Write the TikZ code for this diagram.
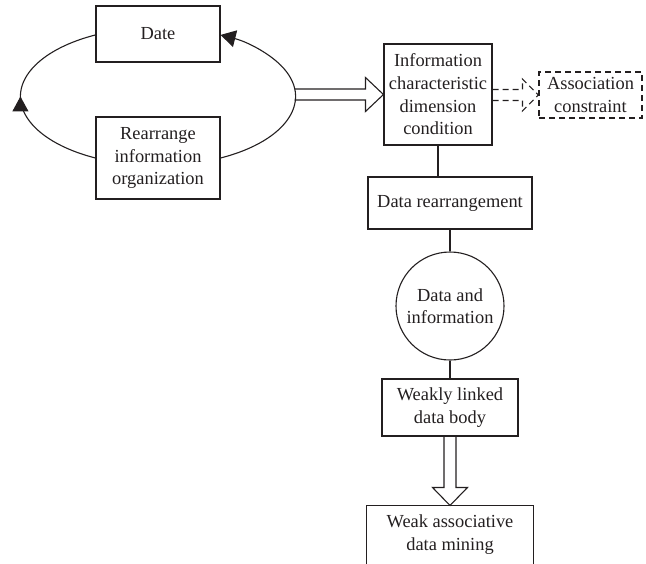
\documentclass[tikz,border=0pt]{standalone}
\usepackage{fontspec}
\setmainfont{Liberation Serif}
\usetikzlibrary{arrows.meta,calc,decorations.markings}
\definecolor{ink}{HTML}{231F20}
\begin{document}
\begin{tikzpicture}[x=0.5pt,y=-0.5pt,
  line width=0.55pt, draw=ink, text=ink,
  every node/.style={font=\fontsize{9.2pt}{11.3pt}\selectfont, align=center, inner sep=0pt},
  box/.style={draw=ink, rectangle},
  dashbox/.style={draw=ink, rectangle, dash pattern=on 3pt off 2pt},
  hollow/.style={draw=ink, line join=miter},
  hollowdash/.style={draw=ink, line join=miter, dash pattern=on 3pt off 2pt},
  tip/.style={-{Triangle[length=7.5pt,width=8.5pt]}},
  midtip/.style={postaction={decorate}, decoration={markings,
     mark=at position 0.5 with {\arrow{Triangle[length=7.5pt,width=8pt]}}}}
]
\useasboundingbox (0,0) rectangle (646,563);

% boxes of the feedback loop
\node[box, minimum width=62pt, minimum height=28pt] (date) at (158,34) {Date};
\node[box, minimum width=62pt, minimum height=41pt] (rearr) at (158,158) {Rearrange\\information\\organization};

% main chain
\node[box, minimum width=54pt, minimum height=50.5pt] (info) at (438,94.5) {Information\\characteristic\\dimension\\condition};
\node[dashbox, minimum width=51.5pt, minimum height=23pt] (assoc) at (590.5,95) {Association\\constraint};
\node[box, minimum width=82pt, minimum height=26pt] (datar) at (450,203) {Data rearrangement};
\node[draw=ink, circle, minimum size=54pt] (dinfo) at (450,306) {Data and\\information};
\node[box, minimum width=68pt, minimum height=28.5pt] (weak) at (450,407.5) {Weakly linked\\data body};
\node[minimum width=83pt, minimum height=28.5pt] (mining) at (450,534.5) {Weak associative\\data mining};
\draw (mining.south west) -- (mining.north west) -- (mining.north east) -- (mining.south east);

% loop arcs
\coordinate (loopE) at (294.5,96);
\draw[midtip] (rearr.west) arc[start angle=243.1, end angle=116.9, x radius=68.5pt, y radius=34.5pt];
\draw[tip] (rearr.east) arc[start angle=-63.1, end angle=63.1, x radius=68.5pt, y radius=34.5pt];

% hollow arrow from the loop to the information box
\draw[hollow] ($(loopE |- info.west)+(0,-5.5)$) -- ($(info.west)+(-18,-5.5)$) -- ($(info.west)+(-18,-17)$)
  -- (info.west) -- ($(info.west)+(-18,17)$) -- ($(info.west)+(-18,5.5)$) -- ($(loopE |- info.west)+(0,5.5)$);

% dashed hollow arrow to the constraint
\draw[hollowdash] ($(info.east |- assoc.west)+(0,-5.5)$) -- ($(assoc.west)+(-16,-5.5)$) -- ($(assoc.west)+(-16,-16)$)
  -- (assoc.west) -- ($(assoc.west)+(-16,16)$) -- ($(assoc.west)+(-16,5.5)$) -- ($(info.east |- assoc.west)+(0,5.5)$);

% plain connectors
\draw (info.south) -- (info.south |- datar.north);
\draw (datar.south) -- (dinfo.north);
\draw (dinfo.south) -- (weak.north);

% hollow arrow down to the mining box
\draw[hollow] ($(weak.south)+(-6,0)$) -- ($(mining.north)+(-6,-18)$) -- ($(mining.north)+(-17.5,-18)$)
  -- (mining.north) -- ($(mining.north)+(17.5,-18)$) -- ($(mining.north)+(6,-18)$) -- ($(weak.south)+(6,0)$);
\end{tikzpicture}
\end{document}
